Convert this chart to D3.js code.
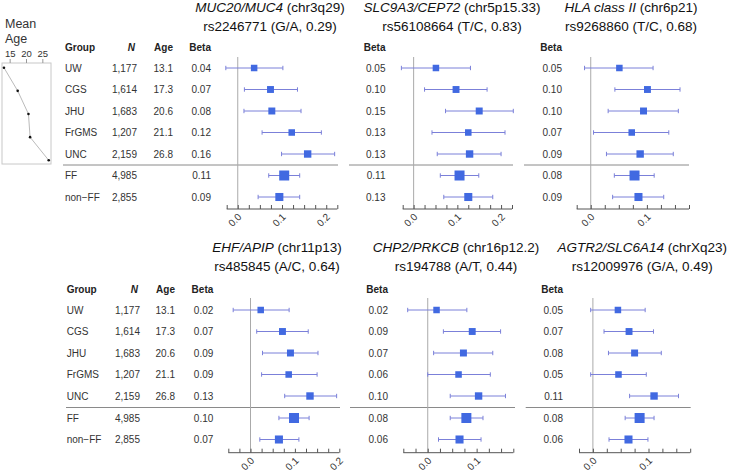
<!DOCTYPE html>
<html><head><meta charset="utf-8">
<script src="https://cdn.jsdelivr.net/npm/d3@7"></script>
<style>
body{margin:0;background:#fff;}
svg{display:block;font-family:"Liberation Sans",Arial,sans-serif;}
</style></head>
<body><svg id="c" width="729" height="474"></svg>
<script>
// ---------- data ----------
const groups = ["UW","CGS","JHU","FrGMS","UNC","FF","non\u2212FF"];
const sampleN = [1177,1614,1683,1207,2159,4985,2855];
const nLabels = ["1,177","1,614","1,683","1,207","2,159","4,985","2,855"];
const meanAge = [13.1,17.3,20.6,21.1,26.8];
const ageTicks = [15,20,25];
const axisTickLabels = [0.0,0.1,0.2];

const genes = ["MUC20/MUC4","SLC9A3/CEP72","HLA class II","EHF/APIP","CHP2/PRKCB","AGTR2/SLC6A14"];
const loci = ["(chr3q29)","(chr5p15.33)","(chr6p21)","(chr11p13)","(chr16p12.2)","(chrXq23)"];
const snpLabels = ["rs2246771 (G/A, 0.29)","rs56108664 (T/C, 0.83)","rs9268860 (T/C, 0.68)",
                   "rs485845 (A/C, 0.64)","rs194788 (A/T, 0.44)","rs12009976 (G/A, 0.49)"];

const beta1 = ["0.04","0.07","0.08","0.12","0.16","0.11","0.09"];
const est1 = [0.037,0.074,0.077,0.122,0.158,0.105,0.094];
const lo1  = [-0.027,0.015,0.014,0.055,0.099,0.070,0.046];
const hi1  = [0.102,0.135,0.143,0.189,0.219,0.140,0.140];

const beta2 = ["0.05","0.10","0.15","0.13","0.13","0.11","0.13"];
const est2 = [0.051,0.097,0.150,0.125,0.128,0.105,0.125];
const lo2  = [-0.028,0.025,0.073,0.042,0.054,0.061,0.069];
const hi2  = [0.130,0.168,0.228,0.209,0.200,0.149,0.181];

const beta3 = ["0.05","0.10","0.10","0.07","0.09","0.08","0.09"];
const est3 = [0.051,0.101,0.094,0.073,0.088,0.078,0.085];
const lo3  = [-0.011,0.043,0.031,0.005,0.028,0.042,0.039];
const hi3  = [0.111,0.159,0.156,0.139,0.147,0.113,0.130];

const beta4 = ["0.02","0.07","0.09","0.09","0.13","0.10","0.07"];
const est4 = [0.023,0.072,0.090,0.086,0.134,0.098,0.064];
const lo4  = [-0.039,0.014,0.027,0.025,0.077,0.064,0.021];
const hi4  = [0.087,0.130,0.152,0.150,0.194,0.132,0.109];

const beta5 = ["0.02","0.09","0.07","0.06","0.10","0.08","0.06"];
const est5 = [0.018,0.091,0.073,0.063,0.104,0.079,0.065];
const lo5  = [-0.041,0.032,0.012,0.000,0.046,0.046,0.022];
const hi5  = [0.080,0.149,0.133,0.128,0.159,0.113,0.109];

const beta6 = ["0.05","0.07","0.08","0.05","0.11","0.08","0.06"];
const est6 = [0.045,0.065,0.075,0.046,0.110,0.084,0.064];
const lo6  = [-0.004,0.020,0.028,-0.004,0.066,0.058,0.029];
const hi6  = [0.094,0.109,0.123,0.096,0.154,0.110,0.099];

const domains = [[-0.025,0.225],[-0.025,0.225],[-0.025,0.175],[-0.05,0.2],[-0.05,0.175],[-0.025,0.175]];

// ---------- layout ----------
const svg = d3.select("#c");
const SQ = "#4169e1", CI = "#7b80d9";
const rowsTop = {header:47, y0:68, step:21.5, sepY:165, axisY:209, zeroTop:57, t1:12, t2:31};
const rowsBot = {header:289, y0:310, step:21.5, sepY:407.5, axisY:452.7, zeroTop:298, t1:251.5, t2:270.5};
const panels = [
  {rows:rowsTop, table:{g:65,n:137,a:173}, betaX:211, range:[226.7,337.3], sep:[63,338], tc:270, est:est1,lo:lo1,hi:hi1,beta:beta1},
  {rows:rowsTop, table:null, betaX:385.5, range:[402.7,512], sep:[349,513], tc:452, est:est2,lo:lo2,hi:hi2,beta:beta2},
  {rows:rowsTop, table:null, betaX:562, range:[576.7,689], sep:[524,689], tc:631, est:est3,lo:lo3,hi:hi3,beta:beta3},
  {rows:rowsBot, table:{g:66.7,n:140,a:175}, betaX:213.3, range:[228.3,339.3], sep:[66,340], tc:277, est:est4,lo:lo4,hi:hi4,beta:beta4},
  {rows:rowsBot, table:null, betaX:388, range:[403.3,513.3], sep:[350,515], tc:456, est:est5,lo:lo5,hi:hi5,beta:beta5},
  {rows:rowsBot, table:null, betaX:563, range:[579,690.2], sep:[525.7,690.7], tc:646, est:est6,lo:lo6,hi:hi6,beta:beta6}
];
const sizeScale = d3.scaleLinear().domain([1177,4985]).range([6.5,10]);
const rowY = (r,i) => i < 5 ? r.y0 + i*r.step : r.sepY + 10.5 + (i-5)*r.step;

panels.forEach((p,pi) => {
  const r = p.rows;
  const g = svg.append("g");
  const x = d3.scaleLinear().domain(domains[pi]).range(p.range);
  // title
  const tg = g.append("g");
  const t = tg.append("text").attr("x",p.tc).attr("y",r.t1).attr("text-anchor","middle")
    .attr("font-size",13.5).attr("fill","#111");
  t.append("tspan").attr("font-style","italic").text(genes[pi]);
  t.append("tspan").text(" " + loci[pi]);
  tg.append("text").attr("x",p.tc).attr("y",r.t2).attr("text-anchor","middle")
    .attr("font-size",13.5).attr("fill","#111").text(snpLabels[pi]);
  const bb = tg.node().getBBox();
  if (bb.x + bb.width > 727) tg.attr("transform",`translate(${727 - bb.x - bb.width},0)`);
  // table
  const fs = 10;
  if (p.table) {
    g.append("text").attr("x",p.table.g).attr("y",r.header).attr("dy","0.35em").attr("font-size",fs)
      .attr("font-weight","bold").attr("fill","#222").text("Group");
    g.append("text").attr("x",p.table.n-2).attr("y",r.header).attr("dy","0.35em").attr("font-size",fs)
      .attr("text-anchor","end").attr("font-weight","bold").attr("font-style","italic").attr("fill","#222").text("N");
    g.append("text").attr("x",p.table.a).attr("y",r.header).attr("dy","0.35em").attr("font-size",fs)
      .attr("text-anchor","end").attr("font-weight","bold").attr("fill","#222").text("Age");
    groups.forEach((gr,i) => {
      const y = rowY(r,i);
      g.append("text").attr("x",p.table.g).attr("y",y).attr("dy","0.35em").attr("font-size",fs).attr("fill","#333").text(gr);
      g.append("text").attr("x",p.table.n).attr("y",y).attr("dy","0.35em").attr("font-size",fs)
        .attr("text-anchor","end").attr("fill","#333").text(nLabels[i]);
      if (i < meanAge.length)
        g.append("text").attr("x",p.table.a).attr("y",y).attr("dy","0.35em").attr("font-size",fs)
          .attr("text-anchor","end").attr("fill","#333").text(d3.format(".1f")(meanAge[i]));
    });
  }
  g.append("text").attr("x",p.betaX).attr("y",r.header).attr("dy","0.35em").attr("font-size",fs)
    .attr("text-anchor","end").attr("font-weight","bold").attr("fill","#222").text("Beta");
  p.beta.forEach((b,i) => {
    g.append("text").attr("x",p.betaX).attr("y",rowY(r,i)).attr("dy","0.35em").attr("font-size",fs)
      .attr("text-anchor","end").attr("fill","#333").text(b);
  });
  // separator
  g.append("line").attr("x1",p.sep[0]).attr("x2",p.sep[1]).attr("y1",r.sepY).attr("y2",r.sepY)
    .attr("stroke","#8a8a8a").attr("stroke-width",1);
  // zero line
  g.append("line").attr("x1",x(0)).attr("x2",x(0)).attr("y1",r.zeroTop).attr("y2",r.axisY)
    .attr("stroke","#aaa").attr("stroke-width",1);
  // axis
  const tickVals = d3.range(Math.round(domains[pi][0]/0.025), Math.round(domains[pi][1]/0.025)+1).map(k => k*0.025);
  const ax = g.append("g").attr("transform",`translate(0,${r.axisY})`)
    .call(d3.axisBottom(x).tickValues(tickVals).tickSize(-4).tickFormat(""));
  ax.select(".domain").attr("stroke","#555").attr("d",`M${p.range[0]},0H${p.range[1]}`);
  ax.selectAll(".tick line").attr("stroke","#555");
  axisTickLabels.filter(v => v <= domains[pi][1] + 1e-9).forEach(v => {
    g.append("text").attr("transform",`translate(${x(v)+4.5},${r.axisY+8.5}) rotate(-45)`)
      .attr("text-anchor","end").attr("font-size",10).attr("fill","#333").text(d3.format(".1f")(v));
  });
  // CIs and squares
  groups.forEach((gr,i) => {
    const y = rowY(r,i);
    g.append("line").attr("x1",x(p.lo[i])).attr("x2",x(p.hi[i])).attr("y1",y).attr("y2",y)
      .attr("stroke",CI).attr("stroke-width",1);
    [p.lo[i],p.hi[i]].forEach(v => g.append("line").attr("x1",x(v)).attr("x2",x(v))
      .attr("y1",y-2.2).attr("y2",y+2.2).attr("stroke",CI).attr("stroke-width",1));
    const s = sizeScale(sampleN[i]);
    g.append("rect").attr("x",x(p.est[i])-s/2).attr("y",y-s/2).attr("width",s).attr("height",s).attr("fill",SQ);
  });
});

// ---------- mean age mini chart ----------
const m = svg.append("g");
m.append("text").attr("x",5).attr("y",28).attr("font-size",12.5).attr("fill","#333").text("Mean");
m.append("text").attr("x",5).attr("y",42.5).attr("font-size",12.5).attr("fill","#333").text("Age");
const ax2 = d3.scaleLinear().domain([12.5,27.5]).range([2,51]);
const ay2 = d3.scaleLinear().domain([0,4]).range([67.7,160.3]);
m.append("rect").attr("x",2).attr("y",63).attr("width",49).attr("height",101)
  .attr("fill","none").attr("stroke","#c8c8c8").attr("stroke-width",1);
ageTicks.forEach(a => {
  m.append("line").attr("x1",ax2(a)).attr("x2",ax2(a)).attr("y1",59).attr("y2",63).attr("stroke","#999");
  m.append("text").attr("x",ax2(a)).attr("y",56.5).attr("text-anchor","middle").attr("font-size",9.5).attr("fill","#333").text(a);
});
m.append("path").datum(meanAge)
  .attr("d",d3.line().x(d=>ax2(d)).y((d,i)=>ay2(i)))
  .attr("fill","none").attr("stroke","#bbb").attr("stroke-width",1);
m.selectAll("circle.pt").data(meanAge).join("circle").attr("class","pt")
  .attr("cx",d=>ax2(d)).attr("cy",(d,i)=>ay2(i)).attr("r",1.3).attr("fill","#111");
</script>
</body></html>
